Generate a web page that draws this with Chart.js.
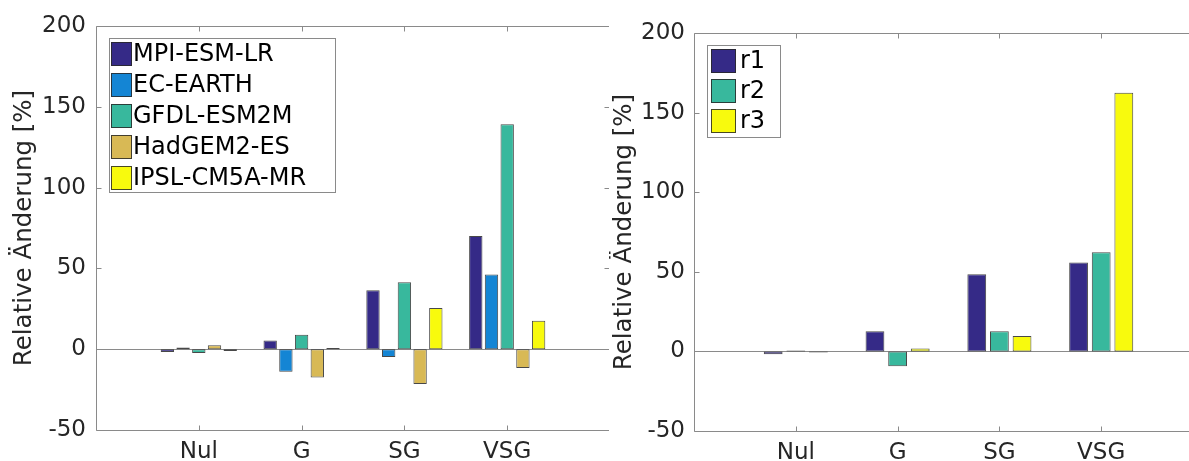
<!DOCTYPE html>
<html><head><meta charset="utf-8">
<script src="https://cdn.jsdelivr.net/npm/chart.js@4.4.0/dist/chart.umd.min.js"></script>
<style>
html,body{margin:0;padding:0;width:1189px;height:461px;overflow:hidden;background:#fff;}
#L{position:absolute;left:0;top:0;width:609px;height:461px;overflow:hidden;}
#R{position:absolute;left:609px;top:0;width:580px;height:461px;overflow:hidden;}
canvas{display:block;}
</style></head><body>
<div id="L"><canvas id="cL" width="610" height="461"></canvas></div>
<div id="R"><canvas id="cR" width="594" height="461"></canvas></div>
<script>
// ---- data ----
const categories = ['Nul', 'G', 'SG', 'VSG'];
const yTickValues = [-50, 0, 50, 100, 150, 200];
const yTitle = 'Relative Änderung [%]';

const modelNames = ['MPI-ESM-LR', 'EC-EARTH', 'GFDL-ESM2M', 'HadGEM2-ES', 'IPSL-CM5A-MR'];
const mpiEsmLr   = [-1.8, 5.4, 36.5, 70];
const ecEarth    = [1.0, -14, -4.9, 46.2];
const gfdlEsm2m  = [-2.3, 9, 41.4, 139.2];
const hadgem2Es  = [2.5, -17.5, -21.5, -11.7];
const ipslCm5aMr = [-1.1, 0.8, 25.5, 17.6];

const runNames = ['r1', 'r2', 'r3'];
const run1 = [-1.8, 12.7, 48.5, 55.8];
const run2 = [0.6, -9.3, 12.7, 62.3];
const run3 = [-0.7, 1.8, 9.7, 162.5];

// ---- styles ----
const FONT = 'DejaVu Sans';
const C_NAVY = '#352a87', C_BLUE = '#1485d4', C_TEAL = '#38b89d', C_GOLD = '#d8b955', C_YELLOW = '#f8fa0d';
const AXIS_COLOR = '#8a8a8a';
const TEXT_COLOR = '#262626';
const EDGE = 'rgba(40,40,40,0.85)';

function padData(arr) { return [null, ...arr, null]; }

function framePlugin(leg) {
  return {
    id: 'frame',
    beforeDatasetsDraw(chart) {
      const ctx = chart.ctx, ca = chart.chartArea, y = chart.scales.y;
      const y0 = Math.round(y.getPixelForValue(0)) + 0.5;
      ctx.save();
      ctx.strokeStyle = AXIS_COLOR; ctx.lineWidth = 1;
      ctx.beginPath(); ctx.moveTo(ca.left, y0); ctx.lineTo(ca.right, y0); ctx.stroke();
      ctx.restore();
    },
    afterDatasetsDraw(chart) {
      const ctx = chart.ctx, ca = chart.chartArea, xs = chart.scales.x, ys = chart.scales.y;
      const L = Math.round(ca.left) + 0.5, R = Math.round(ca.right) - 0.5;
      const T = Math.round(ca.top) + 0.5, B = Math.round(ca.bottom) + 0.5;
      ctx.save();
      ctx.strokeStyle = AXIS_COLOR; ctx.lineWidth = 1;
      ctx.beginPath();
      ctx.moveTo(L, T); ctx.lineTo(R, T); ctx.lineTo(R, B); ctx.lineTo(L, B); ctx.closePath();
      const tl = 5;
      yTickValues.forEach(v => {
        const p = Math.round(ys.getPixelForValue(v)) + 0.5;
        ctx.moveTo(L, p); ctx.lineTo(L + tl, p);
        ctx.moveTo(R, p); ctx.lineTo(R - tl, p);
      });
      categories.forEach((c, i) => {
        const p = Math.round(xs.getPixelForValue(i + 1)) + 0.5;
        ctx.moveTo(p, B); ctx.lineTo(p, B - tl);
        ctx.moveTo(p, T); ctx.lineTo(p, T + tl);
      });
      ctx.stroke();

      // legend
      ctx.fillStyle = '#fff';
      ctx.fillRect(leg.x, leg.y, leg.w, leg.h);
      ctx.strokeStyle = '#8a8a8a';
      ctx.strokeRect(leg.x + 0.5, leg.y + 0.5, leg.w, leg.h);
      ctx.font = leg.fontSize + 'px "' + FONT + '"';
      ctx.textBaseline = 'middle'; ctx.textAlign = 'left';
      chart.data.datasets.forEach((ds, i) => {
        const top = leg.firstTop + i * leg.pitch;
        ctx.fillStyle = ds.backgroundColor;
        ctx.fillRect(leg.swX, top, leg.swW, leg.swH);
        ctx.strokeStyle = EDGE;
        ctx.strokeRect(leg.swX + 0.5, top + 0.5, leg.swW - 1, leg.swH - 1);
        ctx.fillStyle = '#000';
        ctx.fillText(ds.label, leg.textX, top + leg.swH / 2 + 1);
      });
      ctx.restore();
    }
  };
}

function makeChart(canvas, names, series, colors, cfg) {
  const chart = new Chart(canvas, {
    type: 'bar',
    data: {
      labels: ['', ...categories, ''],
      datasets: names.map((n, i) => ({
        label: n,
        data: padData(series[i]),
        backgroundColor: colors[i],
        borderColor: EDGE,
        borderWidth: 1,
        borderSkipped: false,
        categoryPercentage: cfg.catPct,
        barPercentage: cfg.barPct
      }))
    },
    options: {
      responsive: false,
      animation: false,
      devicePixelRatio: 1,
      events: [],
      layout: { padding: { left: 0, right: 0, top: cfg.area.top, bottom: 0 } },
      plugins: { legend: { display: false }, tooltip: { enabled: false } },
      scales: {
        x: {
          offset: false,
          grid: { display: false },
          border: { display: false },
          ticks: { autoSkip: false, maxRotation: 0, minRotation: 0, padding: 0,
                   font: { family: FONT, size: 23 }, color: TEXT_COLOR },
          afterFit(s) { s.height = canvas.height - cfg.area.bottom; }
        },
        y: {
          min: -50, max: 200,
          afterBuildTicks(s) { s.ticks = yTickValues.map(v => ({ value: v })); },
          grid: { display: false, drawTicks: false },
          border: { display: false },
          ticks: { padding: cfg.tickPad, font: { family: FONT, size: 23 }, color: TEXT_COLOR },
          title: { display: true, text: yTitle, color: TEXT_COLOR,
                   font: { family: FONT, size: 24.5, weight: 'normal' },
                   padding: { top: cfg.titlePad, bottom: 0 } },
          afterFit(s) { s.width = cfg.area.left; }
        }
      }
    },
    plugins: [framePlugin(cfg.legend)]
  });
  // make the plot area land exactly where wanted
  for (let k = 0; k < 4; k++) {
    const ca = chart.chartArea, p = chart.options.layout.padding;
    const dr = ca.right - cfg.area.right, dt = cfg.area.top - ca.top, db = ca.bottom - cfg.area.bottom;
    if (Math.abs(dr) < 0.1 && Math.abs(dt) < 0.1 && Math.abs(db) < 0.1) break;
    p.right += dr; p.top += dt; p.bottom += db;
    chart.update();
  }
  return chart;
}

makeChart(document.getElementById('cL'), modelNames,
  [mpiEsmLr, ecEarth, gfdlEsm2m, hadgem2Es, ipslCm5aMr],
  [C_NAVY, C_BLUE, C_TEAL, C_GOLD, C_YELLOW],
  { catPct: 0.764, barPct: 0.85, tickPad: 10, titlePad: 9.5,
    area: { left: 96, right: 610, top: 26, bottom: 430 },
    legend: { x: 109, y: 38, w: 226, h: 154, swX: 111, swW: 21, swH: 24, firstTop: 42, pitch: 31, textX: 133, fontSize: 24 } });

makeChart(document.getElementById('cR'), runNames,
  [run1, run2, run3],
  [C_NAVY, C_TEAL, C_YELLOW],
  { catPct: 0.667, barPct: 0.83, tickPad: 9, titlePad: 1,
    area: { left: 85, right: 594, top: 33, bottom: 431 },
    legend: { x: 707 - 609, y: 45, w: 73, h: 92, swX: 711 - 609, swW: 25, swH: 24, firstTop: 49, pitch: 30, textX: 740 - 609, fontSize: 24 } });
</script>
</body></html>
